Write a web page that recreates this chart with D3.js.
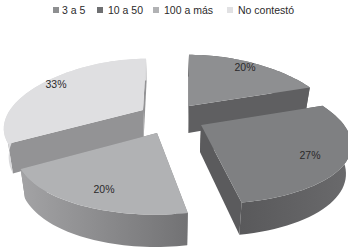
<!DOCTYPE html>
<html>
<head>
<meta charset="utf-8">
<script src="https://cdn.jsdelivr.net/npm/d3@7"></script>
<style>
  html, body { margin: 0; background: #fff; }
  text { font-family: "Liberation Sans", Arial, sans-serif; fill: #2b2a2b; }
</style>
</head>
<body>
<svg id="chart" width="348" height="251"></svg>
<script>
const categories = ['3 a 5', '10 a 50', '100 a más', 'No contestó'];
const values = [20, 27, 20, 33];
const labels = ['20%', '27%', '20%', '33%'];

// slice styling, same order as categories
const topColors = ['#8e8f91', '#7f8082', '#b1b2b4', '#dfdfe1'];
const swatchColors = ['#8e8f91', '#6f7072', '#b1b2b4', '#e1e1e3'];
const radialColors = ['#5f5f61', '#5b5b5d', '#8a8a8c', '#939395'];
const outerColors = [['#5f5f61', '#5f5f61'], ['#59595b', '#6a6a6c'], ['#a3a3a5', '#727274'], ['#dadadc', '#dadadc']];

// pie tip of every exploded slice, on screen
const apexX = [189, 201, 157, 143];
const apexY = [106, 125, 133, 110];

// the slices are not quite the same size in the picture
const radiusX = [140, 143, 135, 133];
const radiusY = [64, 66, 68, 64];
const skewX = [0, 6, -2, -3];

const depth = 27;
const persX = 0.3;
const persY = 0.2;
const midX = 167;

const legendX = [53, 97, 153, 227];
const labelX = [245, 310, 104, 56];
const labelY = [67, 155, 189, 84];

const svg = d3.select('#chart');
const line = d3.line();

const slices = d3.pie().sort(null)(values);

// project a pie point to the screen, near side of the pie comes out larger
function project(i, a, r, down) {
  const u = r * Math.sin(a);
  const v = r * Math.cos(a);
  const x = apexX[i] + radiusX[i] * u * (1 - persX * v) - skewX[i] * v;
  const y = apexY[i] - radiusY[i] * v * (1 - persY * v);
  if (!down) return [x, y];
  return [midX + (x - midX) * 0.97, y + depth * (1 - persY * v)];
}

function arcPoints(i, a0, a1, down) {
  const steps = d3.range(0, 41).map((s) => a0 + (a1 - a0) * s / 40);
  return steps.map((a) => project(i, a, 1, down));
}

const defs = svg.append('defs');
outerColors.forEach((c, i) => {
  const grad = defs.append('linearGradient')
    .attr('id', `outer${i}`)
    .attr('x1', 0).attr('x2', 1)
    .attr('y1', 0).attr('y2', 0);
  grad.append('stop').attr('offset', 0).attr('stop-color', c[0]);
  grad.append('stop').attr('offset', 1).attr('stop-color', c[1]);
});

// back slices first, the front ones cover them
const order = [3, 0, 1, 2];

order.forEach((i) => {
  const d = slices[i];
  const g = svg.append('g').attr('class', 'slice');
  const tip = project(i, 0, 0, false);
  const tipDown = project(i, 0, 0, true);

  [d.startAngle, d.endAngle].forEach((a) => {
    g.append('path')
      .attr('fill', radialColors[i])
      .attr('d', line([tip, project(i, a, 1, false), project(i, a, 1, true), tipDown]) + 'Z');
  });

  g.append('path')
    .attr('fill', `url(#outer${i})`)
    .attr('d', line(arcPoints(i, d.startAngle, d.endAngle, false)
      .concat(arcPoints(i, d.endAngle, d.startAngle, true))) + 'Z');

  g.append('path')
    .attr('fill', topColors[i])
    .attr('d', line([tip].concat(arcPoints(i, d.startAngle, d.endAngle, false))) + 'Z');
});

svg.selectAll('.pct')
  .data(labels)
  .join('text')
  .attr('class', 'pct')
  .attr('x', (d, i) => labelX[i])
  .attr('y', (d, i) => labelY[i])
  .attr('dy', '0.35em')
  .attr('text-anchor', 'middle')
  .attr('font-size', 10.5)
  .text((d) => d);

const legend = svg.selectAll('.legend')
  .data(categories)
  .join('g')
  .attr('class', 'legend')
  .attr('transform', (d, i) => `translate(${legendX[i]},10)`);

legend.append('rect')
  .attr('x', 0)
  .attr('y', -3)
  .attr('width', 6)
  .attr('height', 6)
  .attr('fill', (d, i) => swatchColors[i]);

legend.append('text')
  .attr('x', (d, i) => (i === 0 ? 9 : 11))
  .attr('dy', '0.35em')
  .attr('font-size', 10.5)
  .text((d) => d);
</script>
</body>
</html>
